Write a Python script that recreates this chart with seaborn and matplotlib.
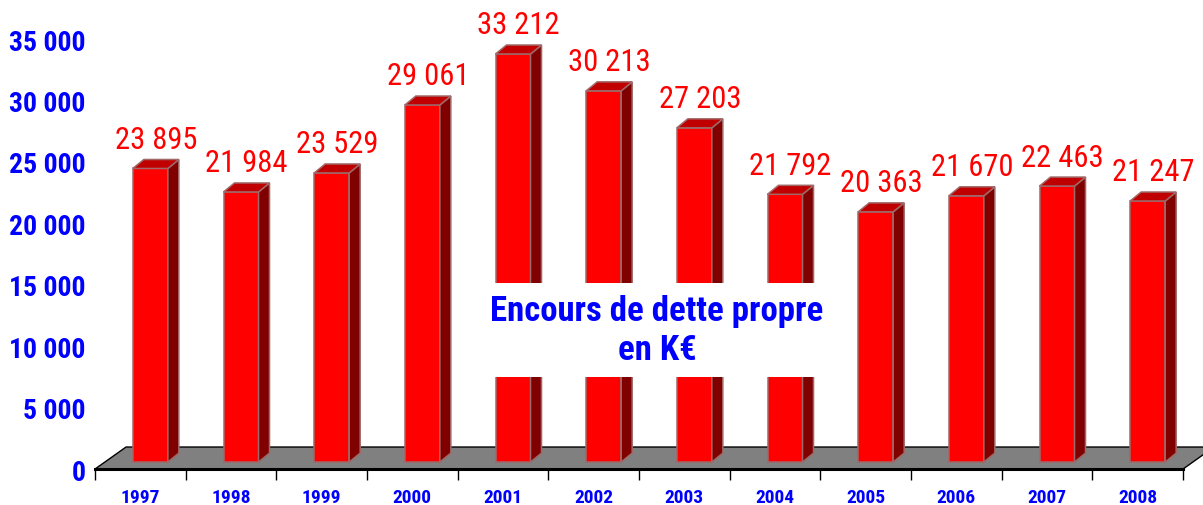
import matplotlib
matplotlib.use('Agg')
import matplotlib.pyplot as plt
import matplotlib.transforms as mtransforms
from matplotlib import font_manager
from matplotlib.patches import Polygon
import numpy as np
import pandas as pd
import seaborn as sns

# Data
years = ['1997', '1998', '1999', '2000', '2001', '2002',
         '2003', '2004', '2005', '2006', '2007', '2008']
values = [23895, 21984, 23529, 29061, 33212, 30213,
          27203, 21792, 20363, 21670, 22463, 21247]
y_ticks = [0, 5000, 10000, 15000, 20000, 25000, 30000, 35000]
caption = 'Encours de dette propre\nen K€'


def fmt(v):
    return f'{v:,}'.replace(',', ' ')


# narrow font similar to Arial Narrow
available = {f.name for f in font_manager.fontManager.ttflist}
candidates = ['Liberation Sans Narrow', 'Roboto Condensed', 'Archivo Narrow',
              'DejaVu Sans Condensed', 'Liberation Sans']
narrow = [c for c in candidates if c in available] + ['DejaVu Sans']
blue = '#0000FF'
red = '#FF0000'

fig = plt.figure(figsize=(12.03, 5.06), dpi=100)
ax = fig.add_axes([0.079, 0.0711, 0.9044, 0.8498])

df = pd.DataFrame({'year': years, 'value': values})
sns.barplot(data=df, x='year', y='value', color=red, saturation=1,
            width=0.386, edgecolor='#A06868', linewidth=1.1, ax=ax, zorder=3)

ax.set_xlim(-0.5, 11.5)
ax.set_ylim(0, 35000)

# 3D look: lift bars onto the floor, add side and top faces
shift = mtransforms.ScaledTranslation(0.10, 0.07, fig.dpi_scale_trans)
bar_tr = ax.transData + shift
DX, DY = 0.121, 730

bars = list(ax.patches)
for p, v in zip(bars, values):
    p.set_transform(bar_tr)
    x0, w, h = p.get_x(), p.get_width(), p.get_height()
    side = Polygon([(x0 + w, 0), (x0 + w + DX, DY), (x0 + w + DX, h + DY), (x0 + w, h)],
                   closed=True, transform=bar_tr, facecolor='#800000',
                   edgecolor='#A06868', linewidth=1.1, zorder=3)
    top = Polygon([(x0, h), (x0 + DX, h + DY), (x0 + w + DX, h + DY), (x0 + w, h)],
                  closed=True, transform=bar_tr, facecolor='#C00000',
                  edgecolor='#A06868', linewidth=1.1, zorder=3)
    ax.add_patch(side)
    ax.add_patch(top)
    ax.annotate(fmt(v), xy=(x0 + w / 2 + DX / 2, h + DY), xycoords=bar_tr,
                xytext=(0, 4), textcoords='offset points', ha='center', va='bottom',
                color=red, fontsize=22, family=narrow, zorder=6)

# grey floor
fx, fy = 31 / 1088, 22 / 430
floor = Polygon([(0, 0), (1, 0), (1 + fx, fy), (fx, fy)], closed=True,
                transform=ax.transAxes, facecolor='#808080', edgecolor='black',
                linewidth=1, zorder=1, clip_on=False)
ax.add_patch(floor)

for s in ['top', 'right', 'left']:
    ax.spines[s].set_visible(False)
ax.spines['bottom'].set_linewidth(2.2)
ax.spines['bottom'].set_zorder(2)

ax.set_xticks(np.arange(-0.5, 12, 1), labels=[''] * 13)
ax.set_xticks(range(len(years)), labels=years, minor=True)
ax.tick_params(axis='x', which='major', length=8, width=1, color='black')
ax.tick_params(axis='x', which='minor', length=0, pad=14, labelsize=14, labelcolor=blue)
for lab in ax.get_xticklabels(minor=True):
    lab.set_family(narrow)
    lab.set_fontweight('bold')

ax.set_yticks(y_ticks, labels=[fmt(v) for v in y_ticks])
ax.tick_params(axis='y', length=0, pad=7, labelsize=20, labelcolor=blue)
for lab in ax.get_yticklabels():
    lab.set_family(narrow)
    lab.set_fontweight(600)

ax.set_xlabel('')
ax.set_ylabel('')

ax.text(0.5165, 0.323, caption, transform=ax.transAxes, ha='center', va='center',
        fontsize=25, color=blue, fontweight=600, family=narrow, linespacing=1.25,
        bbox=dict(boxstyle='square,pad=0.3', facecolor='white', edgecolor='none'),
        zorder=7)

fig.savefig('out.png', dpi=100)
